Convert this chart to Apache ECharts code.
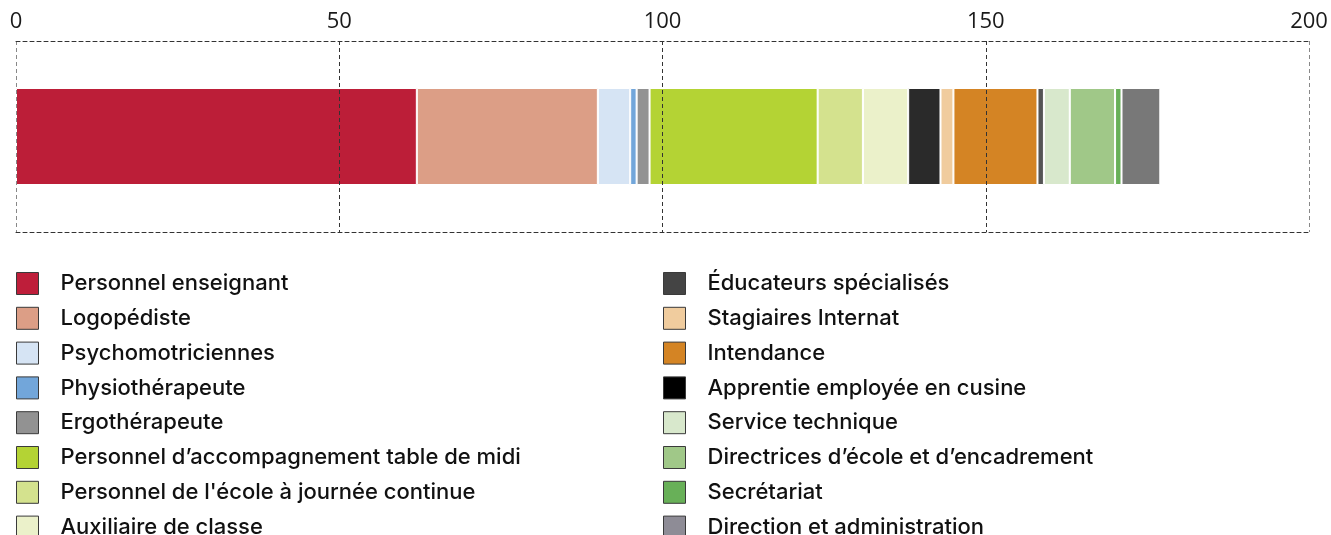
<!DOCTYPE html>
<html>
<head>
<meta charset="utf-8">
<script src="https://cdn.jsdelivr.net/npm/echarts@6/dist/echarts.min.js"></script>
<style>
  html, body { margin: 0; padding: 0; background: #fff; }
  #chart { width: 1331px; height: 535px; }
</style>
</head>
<body>
<div id="chart"></div>
<script>
// staff groups, in stacking order
const groups = [
    'Personnel enseignant',
    'Logopédiste',
    'Psychomotriciennes',
    'Physiothérapeute',
    'Ergothérapeute',
    'Personnel d\u2019accompagnement table de midi',
    'Personnel de l\'école à journée continue',
    'Auxiliaire de classe',
    'Éducateurs spécialisés',
    'Stagiaires Internat',
    'Intendance',
    'Apprentie employée en cusine',
    'Service technique',
    'Directrices d\u2019école et d\u2019encadrement',
    'Secrétariat',
    'Direction et administration'
];
const values = [62, 28, 5, 1, 2, 26, 7, 7, 5, 2, 13, 1, 4, 7, 1, 6];
const xTicks = [0, 50, 100, 150, 200];

const barColors = ['#bc1e38', '#dc9e86', '#d6e4f4', '#72a6da', '#929292', '#b4d334', '#d4e28e', '#ebf1ca',
                   '#2a2a2a', '#f0cc9e', '#d48424', '#555555', '#d8e8cc', '#a0c888', '#68b058', '#787878'];
const legendColors = ['#be1e3a', '#dc9e86', '#d6e4f4', '#72a6da', '#929292', '#b4d334', '#d4e28e', '#ebf1ca',
                      '#444444', '#f0cc9e', '#d48424', '#000000', '#d8e8cc', '#a0c888', '#68b058', '#8e8c96'];

const chart = echarts.init(document.getElementById('chart'));

const series = groups.map(function (name, i) {
    return {
        name: name,
        type: 'bar',
        stack: 'total',
        barWidth: 97,
        data: [values[i]],
        itemStyle: { color: barColors[i], borderColor: '#fff', borderWidth: 1 },
        emphasis: { disabled: true }
    };
});

function legendData(from, to) {
    const out = [];
    for (let i = from; i < to; i++) {
        out.push({ name: groups[i], itemStyle: { color: legendColors[i], borderColor: '#3a3a3a', borderWidth: 1 } });
    }
    return out;
}

const legendBase = {
    orient: 'vertical',
    top: 272,
    height: 400,
    padding: 0,
    itemWidth: 22,
    itemHeight: 22,
    itemGap: 11.8,
    icon: 'rect',
    selectedMode: false,
    textStyle: {
        fontFamily: 'Inter',
        fontWeight: 500,
        fontSize: 22,
        color: '#111',
        lineHeight: 22,
        padding: [0, 0, 0, 17]
    }
};

chart.setOption({
    animation: false,
    grid: { left: 16, right: 22, top: 41, height: 191 },
    legend: [
        Object.assign({}, legendBase, { left: 16, data: legendData(0, 8) }),
        Object.assign({}, legendBase, { left: 663, data: legendData(8, 16) })
    ],
    xAxis: [{
        type: 'value',
        position: 'top',
        min: xTicks[0],
        max: xTicks[xTicks.length - 1],
        interval: 50,
        z: 10,
        axisLine: { show: true, lineStyle: { color: '#333', type: [4, 3] } },
        axisTick: { show: false },
        axisLabel: {
            margin: 8,
            fontFamily: 'Open Sans',
            fontSize: 22,
            color: '#1a1a1a'
        },
        splitLine: {
            show: true,
            lineStyle: { color: ['#888', '#333', '#333', '#333', '#888'], type: [4, 3] }
        }
    }, {
        type: 'value',
        position: 'bottom',
        min: 0,
        max: 200,
        z: 10,
        axisLine: { show: true, lineStyle: { color: '#333', type: [4, 3] } },
        axisTick: { show: false },
        axisLabel: { show: false },
        splitLine: { show: false }
    }],
    yAxis: {
        type: 'category',
        data: ['Total'],
        axisLine: { show: false },
        axisTick: { show: false },
        axisLabel: { show: false }
    },
    series: series
});
</script>
</body>
</html>
